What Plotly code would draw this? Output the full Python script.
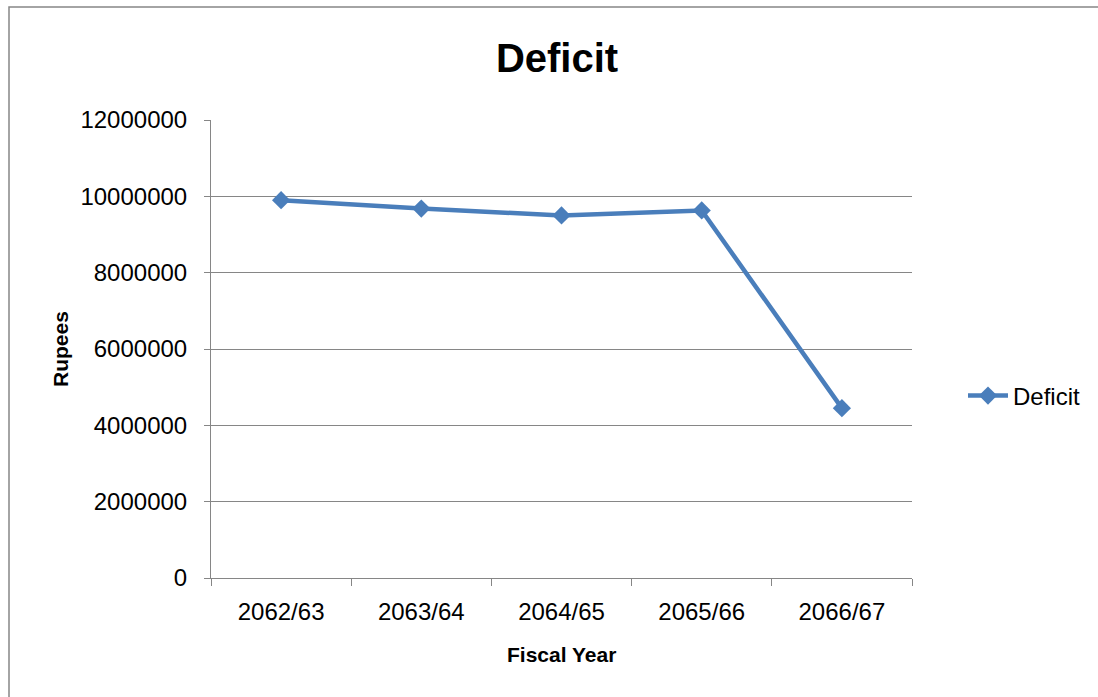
import plotly.graph_objects as go

# Fiscal years and deficit amounts (Rupees)
fiscal_years = ["2062/63", "2063/64", "2064/65", "2065/66", "2066/67"]
deficit = [9900000, 9680000, 9500000, 9630000, 4450000]
y_ticks = [0, 2000000, 4000000, 6000000, 8000000, 10000000, 12000000]

BLUE = "#4A7EBB"
GRAY = "#868686"
FONT = "Liberation Sans, Arial, sans-serif"

W, H = 1098, 697
L, R, T, B = 211, 186, 120, 119
pw, ph = W - L - R, H - T - B


def px_x(x):
    return (x - L) / pw


def px_y(y):
    return (H - B - y) / ph


fig = go.Figure()
fig.add_trace(go.Scatter(
    x=fiscal_years,
    y=deficit,
    name="Deficit",
    mode="lines+markers",
    line=dict(color=BLUE, width=4.5),
    marker=dict(symbol="diamond", size=14, color=BLUE),
))

fig.update_layout(
    width=W,
    height=H,
    margin=dict(l=L, r=R, t=T, b=B, autoexpand=False),
    paper_bgcolor="white",
    plot_bgcolor="white",
    font=dict(family=FONT, size=24, color="black"),
    title=dict(
        text="<b>Deficit</b>",
        font=dict(family=FONT, size=40, color="black"),
        x=557 / W, xanchor="center",
        y=1 - 58 / H, yanchor="middle",
    ),
    showlegend=True,
    legend=dict(
        x=px_x(963), xanchor="left",
        y=px_y(396), yanchor="middle",
        font=dict(family=FONT, size=24),
        bgcolor="rgba(0,0,0,0)",
        itemwidth=40,
    ),
    xaxis=dict(
        type="category",
        range=[-0.5, 4.5],
        tickson="boundaries",
        ticks="outside",
        ticklen=7,
        tickcolor=GRAY,
        tickwidth=1,
        showline=True,
        linecolor=GRAY,
        linewidth=1,
        showgrid=False,
        ticklabelstandoff=12,
        tickfont=dict(family=FONT, size=24),
    ),
    yaxis=dict(
        range=[0, 12000000],
        tickvals=y_ticks,
        tickformat="d",
        ticks="outside",
        ticklen=6,
        tickcolor=GRAY,
        tickwidth=1,
        showline=True,
        linecolor=GRAY,
        linewidth=1,
        showgrid=True,
        gridcolor=GRAY,
        gridwidth=1,
        zeroline=False,
        ticklabelstandoff=12,
        tickfont=dict(family=FONT, size=24),
    ),
    annotations=[
        dict(
            text="<b>Fiscal Year</b>",
            xref="paper", yref="paper",
            x=0.5, y=px_y(654),
            xanchor="center", yanchor="middle",
            showarrow=False,
            font=dict(family=FONT, size=21, color="black"),
        ),
        dict(
            text="<b>Rupees</b>",
            xref="paper", yref="paper",
            x=px_x(60), y=px_y(349),
            xanchor="center", yanchor="middle",
            textangle=-90,
            showarrow=False,
            font=dict(family=FONT, size=21, color="black"),
        ),
    ],
    shapes=[
        # chart frame
        dict(
            type="rect", xref="paper", yref="paper",
            x0=px_x(9), x1=px_x(1110),
            y0=px_y(710), y1=px_y(7),
            line=dict(color=GRAY, width=1.5),
            fillcolor="rgba(0,0,0,0)",
            layer="below",
        ),
    ],
)

fig.write_html("out.html")
